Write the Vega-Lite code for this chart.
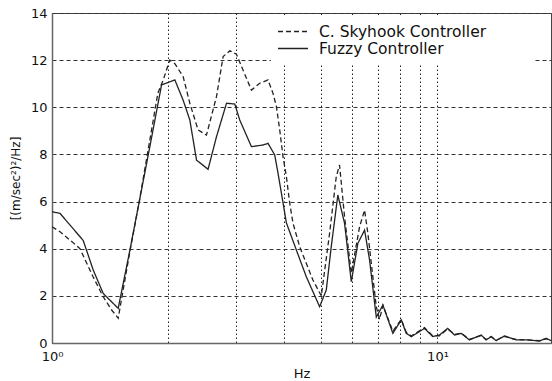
{
  "$schema": "https://vega.github.io/schema/vega-lite/v6.json",
  "width": 499,
  "height": 330,
  "autosize": {"type": "none"},
  "padding": {"left": 52, "top": 13, "right": 1, "bottom": 38},
  "background": "white",
  "config": {
    "view": {"stroke": "#444", "strokeWidth": 1},
    "font": "DejaVu Sans",
    "axis": {
      "labelFont": "DejaVu Sans",
      "titleFont": "DejaVu Sans",
      "labelColor": "#111",
      "titleColor": "#111",
      "domainColor": "#666",
      "domainWidth": 1.5,
      "ticks": false,
      "gridColor": "#222",
      "gridOpacity": 1,
      "gridWidth": 1
    },
    "axisX": {"gridDash": [1.5, 2.5]}
  },
  "data": {
    "values": [
      {"f": 1.0, "psd": 5.57, "series": "Fuzzy Controller"},
      {"f": 1.049, "psd": 5.5, "series": "Fuzzy Controller"},
      {"f": 1.205, "psd": 4.35, "series": "Fuzzy Controller"},
      {"f": 1.279, "psd": 3.1, "series": "Fuzzy Controller"},
      {"f": 1.358, "psd": 2.1, "series": "Fuzzy Controller"},
      {"f": 1.485, "psd": 1.47, "series": "Fuzzy Controller"},
      {"f": 1.593, "psd": 3.95, "series": "Fuzzy Controller"},
      {"f": 1.684, "psd": 6.0, "series": "Fuzzy Controller"},
      {"f": 1.794, "psd": 8.33, "series": "Fuzzy Controller"},
      {"f": 1.924, "psd": 10.95, "series": "Fuzzy Controller"},
      {"f": 2.083, "psd": 11.16, "series": "Fuzzy Controller"},
      {"f": 2.189, "psd": 10.3, "series": "Fuzzy Controller"},
      {"f": 2.278, "psd": 9.46, "series": "Fuzzy Controller"},
      {"f": 2.371, "psd": 7.76, "series": "Fuzzy Controller"},
      {"f": 2.54, "psd": 7.37, "series": "Fuzzy Controller"},
      {"f": 2.671, "psd": 8.75, "series": "Fuzzy Controller"},
      {"f": 2.836, "psd": 10.17, "series": "Fuzzy Controller"},
      {"f": 2.979, "psd": 10.14, "series": "Fuzzy Controller"},
      {"f": 3.069, "psd": 9.46, "series": "Fuzzy Controller"},
      {"f": 3.291, "psd": 8.33, "series": "Fuzzy Controller"},
      {"f": 3.527, "psd": 8.4, "series": "Fuzzy Controller"},
      {"f": 3.634, "psd": 8.47, "series": "Fuzzy Controller"},
      {"f": 3.782, "psd": 7.98, "series": "Fuzzy Controller"},
      {"f": 3.858, "psd": 7.2, "series": "Fuzzy Controller"},
      {"f": 3.937, "psd": 6.35, "series": "Fuzzy Controller"},
      {"f": 4.055, "psd": 5.1, "series": "Fuzzy Controller"},
      {"f": 4.303, "psd": 3.95, "series": "Fuzzy Controller"},
      {"f": 4.568, "psd": 2.81, "series": "Fuzzy Controller"},
      {"f": 4.946, "psd": 1.54, "series": "Fuzzy Controller"},
      {"f": 5.147, "psd": 2.25, "series": "Fuzzy Controller"},
      {"f": 5.302, "psd": 4.09, "series": "Fuzzy Controller"},
      {"f": 5.515, "psd": 6.28, "series": "Fuzzy Controller"},
      {"f": 5.74, "psd": 5.08, "series": "Fuzzy Controller"},
      {"f": 5.976, "psd": 2.6, "series": "Fuzzy Controller"},
      {"f": 6.216, "psd": 4.23, "series": "Fuzzy Controller"},
      {"f": 6.47, "psd": 4.79, "series": "Fuzzy Controller"},
      {"f": 6.665, "psd": 3.52, "series": "Fuzzy Controller"},
      {"f": 6.938, "psd": 1.1, "series": "Fuzzy Controller"},
      {"f": 7.217, "psd": 1.61, "series": "Fuzzy Controller"},
      {"f": 7.66, "psd": 0.41, "series": "Fuzzy Controller"},
      {"f": 8.054, "psd": 0.98, "series": "Fuzzy Controller"},
      {"f": 8.299, "psd": 0.41, "series": "Fuzzy Controller"},
      {"f": 8.551, "psd": 0.27, "series": "Fuzzy Controller"},
      {"f": 9.254, "psd": 0.62, "series": "Fuzzy Controller"},
      {"f": 9.723, "psd": 0.27, "series": "Fuzzy Controller"},
      {"f": 10.12, "psd": 0.34, "series": "Fuzzy Controller"},
      {"f": 10.63, "psd": 0.62, "series": "Fuzzy Controller"},
      {"f": 11.07, "psd": 0.34, "series": "Fuzzy Controller"},
      {"f": 11.52, "psd": 0.41, "series": "Fuzzy Controller"},
      {"f": 12.1, "psd": 0.13, "series": "Fuzzy Controller"},
      {"f": 12.98, "psd": 0.34, "series": "Fuzzy Controller"},
      {"f": 13.37, "psd": 0.13, "series": "Fuzzy Controller"},
      {"f": 13.78, "psd": 0.27, "series": "Fuzzy Controller"},
      {"f": 14.2, "psd": 0.1, "series": "Fuzzy Controller"},
      {"f": 14.92, "psd": 0.3, "series": "Fuzzy Controller"},
      {"f": 15.99, "psd": 0.13, "series": "Fuzzy Controller"},
      {"f": 17.31, "psd": 0.13, "series": "Fuzzy Controller"},
      {"f": 18.37, "psd": 0.08, "series": "Fuzzy Controller"},
      {"f": 19.12, "psd": 0.2, "series": "Fuzzy Controller"},
      {"f": 19.7, "psd": 0.1, "series": "Fuzzy Controller"},

      {"f": 1.0, "psd": 4.93, "series": "C. Skyhook Controller"},
      {"f": 1.049, "psd": 4.72, "series": "C. Skyhook Controller"},
      {"f": 1.113, "psd": 4.37, "series": "C. Skyhook Controller"},
      {"f": 1.182, "psd": 4.0, "series": "C. Skyhook Controller"},
      {"f": 1.279, "psd": 2.8, "series": "C. Skyhook Controller"},
      {"f": 1.358, "psd": 1.96, "series": "C. Skyhook Controller"},
      {"f": 1.428, "psd": 1.4, "series": "C. Skyhook Controller"},
      {"f": 1.485, "psd": 1.05, "series": "C. Skyhook Controller"},
      {"f": 1.593, "psd": 3.9, "series": "C. Skyhook Controller"},
      {"f": 1.684, "psd": 6.0, "series": "C. Skyhook Controller"},
      {"f": 1.759, "psd": 7.8, "series": "C. Skyhook Controller"},
      {"f": 1.882, "psd": 10.6, "series": "C. Skyhook Controller"},
      {"f": 1.943, "psd": 11.16, "series": "C. Skyhook Controller"},
      {"f": 2.021, "psd": 12.0, "series": "C. Skyhook Controller"},
      {"f": 2.083, "psd": 11.85, "series": "C. Skyhook Controller"},
      {"f": 2.189, "psd": 11.3, "series": "C. Skyhook Controller"},
      {"f": 2.278, "psd": 10.17, "series": "C. Skyhook Controller"},
      {"f": 2.393, "psd": 9.04, "series": "C. Skyhook Controller"},
      {"f": 2.516, "psd": 8.82, "series": "C. Skyhook Controller"},
      {"f": 2.671, "psd": 10.45, "series": "C. Skyhook Controller"},
      {"f": 2.779, "psd": 12.15, "series": "C. Skyhook Controller"},
      {"f": 2.892, "psd": 12.4, "series": "C. Skyhook Controller"},
      {"f": 3.009, "psd": 12.25, "series": "C. Skyhook Controller"},
      {"f": 3.13, "psd": 11.58, "series": "C. Skyhook Controller"},
      {"f": 3.291, "psd": 10.73, "series": "C. Skyhook Controller"},
      {"f": 3.458, "psd": 11.02, "series": "C. Skyhook Controller"},
      {"f": 3.634, "psd": 11.16, "series": "C. Skyhook Controller"},
      {"f": 3.744, "psd": 10.59, "series": "C. Skyhook Controller"},
      {"f": 3.821, "psd": 10.03, "series": "C. Skyhook Controller"},
      {"f": 3.897, "psd": 9.04, "series": "C. Skyhook Controller"},
      {"f": 3.975, "psd": 7.9, "series": "C. Skyhook Controller"},
      {"f": 4.055, "psd": 7.06, "series": "C. Skyhook Controller"},
      {"f": 4.136, "psd": 5.94, "series": "C. Skyhook Controller"},
      {"f": 4.218, "psd": 5.09, "series": "C. Skyhook Controller"},
      {"f": 4.389, "psd": 4.09, "series": "C. Skyhook Controller"},
      {"f": 4.752, "psd": 2.67, "series": "C. Skyhook Controller"},
      {"f": 4.996, "psd": 2.0, "series": "C. Skyhook Controller"},
      {"f": 5.249, "psd": 4.65, "series": "C. Skyhook Controller"},
      {"f": 5.463, "psd": 7.06, "series": "C. Skyhook Controller"},
      {"f": 5.571, "psd": 7.55, "series": "C. Skyhook Controller"},
      {"f": 5.74, "psd": 5.36, "series": "C. Skyhook Controller"},
      {"f": 5.976, "psd": 2.96, "series": "C. Skyhook Controller"},
      {"f": 6.279, "psd": 4.93, "series": "C. Skyhook Controller"},
      {"f": 6.47, "psd": 5.64, "series": "C. Skyhook Controller"},
      {"f": 6.598, "psd": 4.65, "series": "C. Skyhook Controller"},
      {"f": 6.938, "psd": 1.54, "series": "C. Skyhook Controller"},
      {"f": 7.075, "psd": 1.0, "series": "C. Skyhook Controller"},
      {"f": 7.217, "psd": 1.6, "series": "C. Skyhook Controller"},
      {"f": 7.66, "psd": 0.5, "series": "C. Skyhook Controller"},
      {"f": 8.054, "psd": 1.0, "series": "C. Skyhook Controller"},
      {"f": 8.299, "psd": 0.45, "series": "C. Skyhook Controller"},
      {"f": 8.551, "psd": 0.3, "series": "C. Skyhook Controller"},
      {"f": 9.254, "psd": 0.65, "series": "C. Skyhook Controller"},
      {"f": 9.723, "psd": 0.3, "series": "C. Skyhook Controller"},
      {"f": 10.12, "psd": 0.3, "series": "C. Skyhook Controller"},
      {"f": 10.63, "psd": 0.6, "series": "C. Skyhook Controller"},
      {"f": 11.07, "psd": 0.36, "series": "C. Skyhook Controller"},
      {"f": 11.52, "psd": 0.42, "series": "C. Skyhook Controller"},
      {"f": 12.1, "psd": 0.15, "series": "C. Skyhook Controller"},
      {"f": 12.98, "psd": 0.32, "series": "C. Skyhook Controller"},
      {"f": 13.37, "psd": 0.15, "series": "C. Skyhook Controller"},
      {"f": 13.78, "psd": 0.27, "series": "C. Skyhook Controller"},
      {"f": 14.2, "psd": 0.12, "series": "C. Skyhook Controller"},
      {"f": 14.92, "psd": 0.28, "series": "C. Skyhook Controller"},
      {"f": 15.99, "psd": 0.15, "series": "C. Skyhook Controller"},
      {"f": 17.31, "psd": 0.12, "series": "C. Skyhook Controller"},
      {"f": 18.37, "psd": 0.1, "series": "C. Skyhook Controller"},
      {"f": 19.12, "psd": 0.18, "series": "C. Skyhook Controller"},
      {"f": 19.7, "psd": 0.1, "series": "C. Skyhook Controller"}
    ]
  },
  "mark": {"type": "line", "strokeWidth": 1.3, "color": "#222", "clip": true},
  "encoding": {
    "x": {
      "field": "f",
      "type": "quantitative",
      "scale": {"type": "log", "domain": [1, 19.7], "nice": false},
      "axis": {
        "title": "Hz",
        "titleFontSize": 13,
        "titleFontWeight": "normal",
        "titlePadding": 4,
        "values": [1, 2, 3, 4, 5, 6, 7, 8, 9, 10],
        "labelExpr": "datum.value == 1 ? '10⁰' : datum.value == 10 ? '10¹' : ''",
        "labelFontSize": 13,
        "labelPadding": 7,
        "labelFlush": false,
        "grid": true
      }
    },
    "y": {
      "field": "psd",
      "type": "quantitative",
      "scale": {"domain": [0, 14], "nice": false},
      "axis": {
        "title": "[(m/sec²)²/Hz]",
        "titleFontSize": 12,
        "titleFontWeight": "normal",
        "titlePadding": 8,
        "values": [0, 2, 4, 6, 8, 10, 12, 14],
        "labelFontSize": 13,
        "labelPadding": 5,
        "grid": true,
        "gridDash": [4, 3],
        "gridColor": "#333",
        "gridWidth": 1.2
      }
    },
    "strokeDash": {
      "field": "series",
      "type": "nominal",
      "scale": {
        "domain": ["C. Skyhook Controller", "Fuzzy Controller"],
        "range": [[5, 3], [1, 0]]
      },
      "legend": {
        "title": " ",
        "titleOrient": "right",
        "titlePadding": 42,
        "titleFontSize": 16,
        "orient": "none",
        "legendX": 219,
        "legendY": 4,
        "fillColor": "white",
        "padding": 6,
        "symbolType": "stroke",
        "symbolSize": 900,
        "symbolStrokeWidth": 1.5,
        "symbolStrokeColor": "#222",
        "labelFont": "DejaVu Sans",
        "labelFontSize": 15.5,
        "labelLimit": 400,
        "labelColor": "#111",
        "labelOffset": 10,
        "clipHeight": 17,
        "rowPadding": 0
      }
    }
  }
}
